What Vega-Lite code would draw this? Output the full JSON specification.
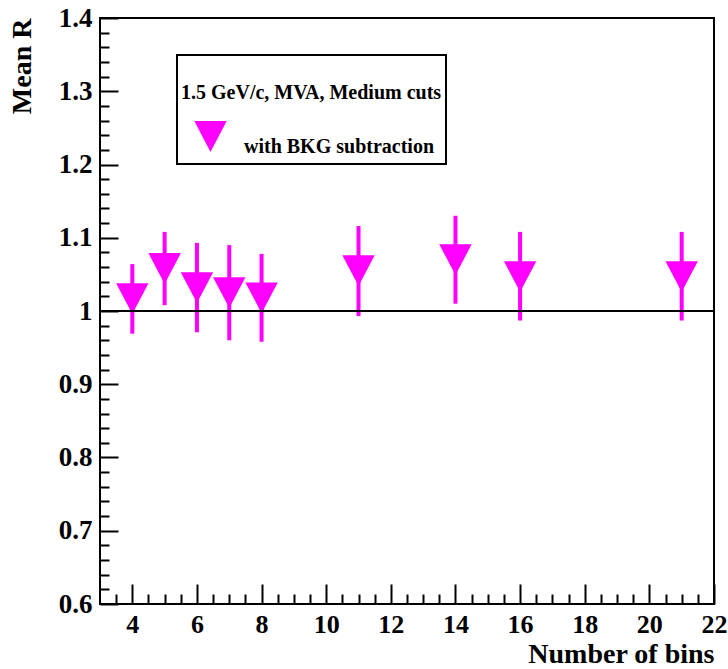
{
  "$schema": "https://vega.github.io/schema/vega-lite/v6.json",
  "width": 614,
  "height": 586,
  "autosize": {"type": "none"},
  "padding": {"left": 100, "top": 18, "right": 14, "bottom": 65},
  "background": "white",
  "config": {
    "view": {"stroke": "black", "strokeWidth": 2},
    "font": "Liberation Serif",
    "legend": {"strokeWidth": 2}
  },
  "data": {
    "values": [
      {"bins": 4, "meanR": 1.017, "lo": 0.969, "hi": 1.064, "series": "with BKG subtraction"},
      {"bins": 5, "meanR": 1.058, "lo": 1.008, "hi": 1.108, "series": "with BKG subtraction"},
      {"bins": 6, "meanR": 1.032, "lo": 0.971, "hi": 1.093, "series": "with BKG subtraction"},
      {"bins": 7, "meanR": 1.025, "lo": 0.960, "hi": 1.090, "series": "with BKG subtraction"},
      {"bins": 8, "meanR": 1.018, "lo": 0.958, "hi": 1.078, "series": "with BKG subtraction"},
      {"bins": 11, "meanR": 1.055, "lo": 0.993, "hi": 1.116, "series": "with BKG subtraction"},
      {"bins": 14, "meanR": 1.070, "lo": 1.010, "hi": 1.130, "series": "with BKG subtraction"},
      {"bins": 16, "meanR": 1.047, "lo": 0.987, "hi": 1.108, "series": "with BKG subtraction"},
      {"bins": 21, "meanR": 1.047, "lo": 0.987, "hi": 1.108, "series": "with BKG subtraction"}
    ]
  },
  "resolve": {"axis": {"x": "independent", "y": "independent"}},
  "layer": [
    {
      "mark": {"type": "point", "filled": true, "shape": "M-1,-0.95L1,-0.95L0,0.95Z", "size": 1050, "opacity": 1, "strokeWidth": 0},
      "encoding": {
        "x": {
          "field": "bins", "type": "quantitative", "title": "Number of bins",
          "scale": {"domain": [3, 22], "nice": false, "zero": false},
          "axis": {
            "values": [3.5,4,4.5,5,5.5,6,6.5,7,7.5,8,8.5,9,9.5,10,10.5,11,11.5,12,12.5,13,13.5,14,14.5,15,15.5,16,16.5,17,17.5,18,18.5,19,19.5,20,20.5,21,21.5,22],
            "titleFont": "Liberation Serif", "titleFontWeight": "bold", "titleFontSize": 28, "titleColor": "black",
            "titleAnchor": "end", "titleAlign": "right", "titleBaseline": "bottom", "titleX": 614, "titleY": 64,
            "labelFont": "Liberation Serif", "labelFontWeight": "bold", "labelFontSize": 26, "labelColor": "black",
            "labelExpr": "datum.value % 2 == 0 ? format(datum.value, 'd') : ''",
            "labelPadding": {"condition": {"test": "datum.value % 2 == 0", "value": 27}, "value": 17},
            "labelFlush": false, "labelOverlap": false, "labelBound": false,
            "tickSize": {"condition": {"test": "datum.value % 2 == 0", "value": -20}, "value": -10},
            "tickColor": "black", "tickWidth": 2,
            "domain": false, "grid": false
          }
        },
        "y": {
          "field": "meanR", "type": "quantitative", "title": "Mean R",
          "scale": {"domain": [0.6, 1.4]},
          "axis": {
            "values": [0.6,0.62,0.64,0.66,0.68,0.7,0.72,0.74,0.76,0.78,0.8,0.82,0.84,0.86,0.88,0.9,0.92,0.94,0.96,0.98,1,1.02,1.04,1.06,1.08,1.1,1.12,1.14,1.16,1.18,1.2,1.22,1.24,1.26,1.28,1.3,1.32,1.34,1.36,1.38,1.4],
            "titleFont": "Liberation Serif", "titleFontWeight": "bold", "titleFontSize": 28, "titleColor": "black",
            "titleAngle": -90, "titleAlign": "right", "titleBaseline": "middle", "titleX": -78, "titleY": 0,
            "labelFont": "Liberation Serif", "labelFontWeight": "bold", "labelFontSize": 27, "labelColor": "black",
            "labelExpr": "abs(datum.value*10 - round(datum.value*10)) < 0.001 ? format(datum.value, '~g') : ''",
            "labelPadding": {"condition": {"test": "abs(datum.value*10 - round(datum.value*10)) < 0.001", "value": 26}, "value": 17},
            "labelFlush": false, "labelOverlap": false, "labelBound": false,
            "tickSize": {"condition": {"test": "abs(datum.value*10 - round(datum.value*10)) < 0.001", "value": -18}, "value": -9},
            "tickColor": "black", "tickWidth": 2,
            "domain": false, "grid": false
          }
        },
        "color": {
          "field": "series", "type": "nominal",
          "scale": {"range": ["#ff00ff"]},
          "legend": {
            "orient": "none", "legendX": 77, "legendY": 37,
            "title": ["", "1.5 GeV/c, MVA, Medium cuts"],
            "titleFont": "Liberation Serif", "titleFontWeight": "bold", "titleFontSize": 20, "titleColor": "black",
            "titleLineHeight": 24, "titlePadding": 10, "titleLimit": 500,
            "labelFont": "Liberation Serif", "labelFontWeight": "bold", "labelFontSize": 20, "labelColor": "black",
            "labelBaseline": "top", "labelOffset": 17, "symbolOffset": 13, "labelLimit": 500,
            "symbolType": "M-1,-0.95L1,-0.95L0,0.95Z", "symbolSize": 1050, "symbolStrokeWidth": 0, "symbolOpacity": 1,
            "clipHeight": 47,
            "strokeColor": "black", "fillColor": "white", "padding": 4
          }
        }
      }
    },
    {
      "mark": {"type": "rule", "color": "#ff00ff", "strokeWidth": 4},
      "encoding": {
        "x": {"field": "bins", "type": "quantitative", "axis": null},
        "y": {"field": "lo", "type": "quantitative", "axis": null},
        "y2": {"field": "hi"}
      }
    },
    {
      "mark": {"type": "rule", "color": "black", "strokeWidth": 2},
      "encoding": {
        "y": {"datum": 1, "type": "quantitative", "axis": null}
      }
    }
  ]
}
